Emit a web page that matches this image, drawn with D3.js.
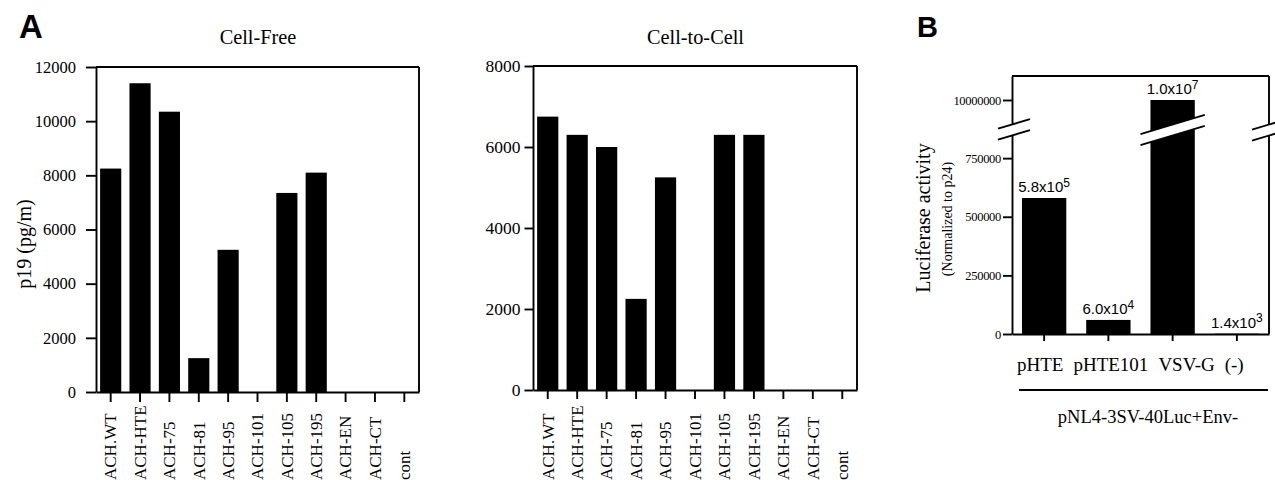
<!DOCTYPE html>
<html>
<head>
<meta charset="utf-8">
<script src="https://cdn.jsdelivr.net/npm/d3@7"></script>
<style>
  html, body { margin: 0; padding: 0; background: #fff; }
  svg { display: block; }
  text { fill: #000; }
</style>
</head>
<body>
<svg id="chart" width="1275" height="480"></svg>
<script>
// ---------- DATA ----------
const categoriesA = ["ACH.WT", "ACH-HTE", "ACH-75", "ACH-81", "ACH-95", "ACH-101", "ACH-105", "ACH-195", "ACH-EN", "ACH-CT", "cont"];
const cellFreeValues = [8250, 11400, 10350, 1250, 5250, 0, 7350, 8100, 0, 0, 0];
const cellToCellValues = [6750, 6300, 6000, 2250, 5250, 0, 6300, 6300, 0, 0, 0];
const cellFreeTicks = [0, 2000, 4000, 6000, 8000, 10000, 12000];
const cellToCellTicks = [0, 2000, 4000, 6000, 8000];

const categoriesB = ["pHTE", "pHTE101", "VSV-G", "(-)"];
const luciferaseValues = [580000, 60000, 10000000, 1400];
const luciferaseTicks = [0, 250000, 500000, 750000, 10000000];

const titleA1 = "Cell-Free";
const titleA2 = "Cell-to-Cell";
const yTitleA = "p19 (pg/m)";
const yTitleB1 = "Luciferase activity";
const yTitleB2 = "(Normalized to p24)";
const groupLabelB = "pNL4-3SV-40Luc+Env-";

// ---------- DRAW ----------
const svg = d3.select("#chart");
const SERIF = "'Liberation Serif', 'Times New Roman', serif";
const SANS = "'Liberation Sans', Arial, sans-serif";
const SW = 1.9;

function styleAxis(g) {
  g.selectAll("path.domain").attr("stroke", "#000").attr("stroke-width", SW);
  g.selectAll(".tick line").attr("stroke", "#000").attr("stroke-width", SW);
  g.selectAll("text").attr("fill", "#000");
}

function panelA(opts) {
  const { x0, x1, y0, y1, values, ticks, title, tickFont, tickLen, tickPad, xTickLen } = opts;
  const x = d3.scaleBand().domain(categoriesA).range([x0, x1]).paddingInner(0.28).paddingOuter(0.14);
  const y = d3.scaleLinear().domain([0, d3.max(ticks)]).range([y0, y1]);
  const g = svg.append("g");

  g.selectAll("rect.bar").data(values).join("rect")
    .attr("x", (d, i) => x(categoriesA[i]))
    .attr("width", x.bandwidth())
    .attr("y", d => y(d))
    .attr("height", d => y(0) - y(d))
    .attr("fill", "#000");

  const ya = g.append("g").attr("transform", `translate(${x0},0)`)
    .call(d3.axisLeft(y).tickValues(ticks).tickFormat(d3.format("d")).tickSize(tickLen).tickPadding(tickPad).tickSizeOuter(0));
  styleAxis(ya);
  ya.selectAll("text").attr("font-family", SERIF).attr("font-size", tickFont);

  const xa = g.append("g").attr("transform", `translate(0,${y0})`)
    .call(d3.axisBottom(x).tickSize(xTickLen).tickSizeOuter(0).tickFormat(""));
  styleAxis(xa);

  g.append("line").attr("x1", x0).attr("x2", x1).attr("y1", y1).attr("y2", y1).attr("stroke", "#000").attr("stroke-width", SW);
  g.append("line").attr("x1", x1).attr("x2", x1).attr("y1", y1).attr("y2", y0).attr("stroke", "#000").attr("stroke-width", SW);

  g.selectAll("text.cat").data(categoriesA).join("text")
    .attr("class", "cat")
    .attr("transform", d => `translate(${x(d) + x.bandwidth() / 2},480) rotate(-90)`)
    .attr("dy", "0.34em")
    .attr("text-anchor", "start")
    .attr("font-family", SERIF)
    .attr("font-size", 17)
    .text(d => d);

  g.append("text").attr("x", (x0 + x1) / 2 + 0.5).attr("y", 44)
    .attr("text-anchor", "middle").attr("font-family", SERIF).attr("font-size", 20.3)
    .text(title);
}

panelA({ x0: 96, x1: 419, y0: 392, y1: 67, values: cellFreeValues, ticks: cellFreeTicks, title: titleA1,
         tickFont: 16.5, tickLen: 10, tickPad: 10, xTickLen: 10 });
panelA({ x0: 533, x1: 857, y0: 390, y1: 66, values: cellToCellValues, ticks: cellToCellTicks, title: titleA2,
         tickFont: 17.5, tickLen: 8.5, tickPad: 4, xTickLen: 9 });

svg.append("text").attr("transform", "translate(31,244) rotate(-90)")
  .attr("text-anchor", "middle").attr("font-family", SERIF).attr("font-size", 20)
  .text(yTitleA);

svg.append("text").attr("x", 19).attr("y", 38).attr("font-family", SANS).attr("font-weight", "bold").attr("font-size", 33).text("A");
svg.append("text").attr("x", 917).attr("y", 37).attr("font-family", SANS).attr("font-weight", "bold").attr("font-size", 29).text("B");

// ---------- PANEL B ----------
(function () {
  const x0 = 1012, x1 = 1269, y0 = 334, yTop = 76;
  const breakY = 130, half = 5.5, slope = -0.3;
  const x = d3.scaleBand().domain(categoriesB).range([x0, x1]).paddingInner(0.31).paddingOuter(0.155);
  // broken axis: lower segment 0..870000, upper segment 9.7M..10.24M
  const y = d3.scaleLinear().domain([0, 870000, 9700000, 10240000]).range([y0, breakY, breakY, yTop]);
  const g = svg.append("g");

  g.selectAll("rect.bar").data(luciferaseValues).join("rect")
    .attr("x", (d, i) => x(categoriesB[i]))
    .attr("width", x.bandwidth())
    .attr("y", d => y(d))
    .attr("height", d => y(0) - y(d))
    .attr("fill", "#000");

  const ya = g.append("g").attr("transform", `translate(${x0},0)`)
    .call(d3.axisLeft(y).tickValues(luciferaseTicks).tickFormat(d3.format("d")).tickSize(9).tickPadding(2).tickSizeOuter(0));
  styleAxis(ya);
  ya.selectAll("text").attr("font-family", SERIF).attr("font-size", 12.5).attr("letter-spacing", "-0.3px");

  const xa = g.append("g").attr("transform", `translate(0,${y0})`)
    .call(d3.axisBottom(x).tickSize(7).tickSizeOuter(0).tickFormat(""));
  styleAxis(xa);

  g.append("line").attr("x1", x0).attr("x2", x1).attr("y1", yTop).attr("y2", yTop).attr("stroke", "#000").attr("stroke-width", SW);
  g.append("line").attr("x1", x1).attr("x2", x1).attr("y1", yTop).attr("y2", y0).attr("stroke", "#000").attr("stroke-width", SW);

  function breakMark(cx, left, right) {
    const pts = (off) => [[cx - left, breakY + off + slope * (-left)], [cx + right, breakY + off + slope * right]];
    const up = pts(-half), lo = pts(half);
    g.append("path")
      .attr("d", `M${up[0][0]},${up[0][1]}L${up[1][0]},${up[1][1]}L${lo[1][0]},${lo[1][1]}L${lo[0][0]},${lo[0][1]}Z`)
      .attr("fill", "#fff");
    [up, lo].forEach(p => g.append("line")
      .attr("x1", p[0][0]).attr("y1", p[0][1]).attr("x2", p[1][0]).attr("y2", p[1][1])
      .attr("stroke", "#000").attr("stroke-width", 1.8));
  }
  breakMark(x0, 14, 18);
  breakMark(x("VSV-G") + x.bandwidth() / 2, x.bandwidth() / 2 + 10, x.bandwidth() / 2 + 10);
  breakMark(x1, 17, 8);

  const lab = g.selectAll("text.val").data(luciferaseValues).join("text")
    .attr("x", (d, i) => x(categoriesB[i]) + x.bandwidth() / 2)
    .attr("y", d => y(d) - 6)
    .attr("text-anchor", "middle")
    .attr("font-family", SANS)
    .attr("font-size", 15);
  lab.each(function (d) {
    const [m, e] = d.toExponential(1).split("e");
    const t = d3.select(this);
    t.append("tspan").text(m + "x10");
    t.append("tspan").attr("dy", "-0.45em").attr("font-size", "0.8em").text(String(+e));
  });

  // category labels set as one line, words separated by a gap (as in the reference)
  const catLine = g.append("text")
    .attr("x", x.range()[0] + 5)
    .attr("y", 371)
    .attr("text-anchor", "start")
    .attr("font-family", SERIF)
    .attr("font-size", 19);
  catLine.selectAll("tspan").data(categoriesB).join("tspan")
    .attr("dx", (d, i) => i === 0 ? 0 : 10)
    .text(d => d);

  g.append("line").attr("x1", 1019).attr("x2", 1268).attr("y1", 390).attr("y2", 390).attr("stroke", "#000").attr("stroke-width", 1.8);
  g.append("text").attr("x", 1148).attr("y", 423).attr("text-anchor", "middle")
    .attr("font-family", SERIF).attr("font-size", 18.5).text(groupLabelB);

  svg.append("text").attr("transform", "translate(930,218) rotate(-90)")
    .attr("text-anchor", "middle").attr("font-family", SERIF).attr("font-size", 20).text(yTitleB1);
  svg.append("text").attr("transform", "translate(952,219) rotate(-90)")
    .attr("text-anchor", "middle").attr("font-family", SERIF).attr("font-size", 14).text(yTitleB2);
})();
</script>
</body>
</html>
